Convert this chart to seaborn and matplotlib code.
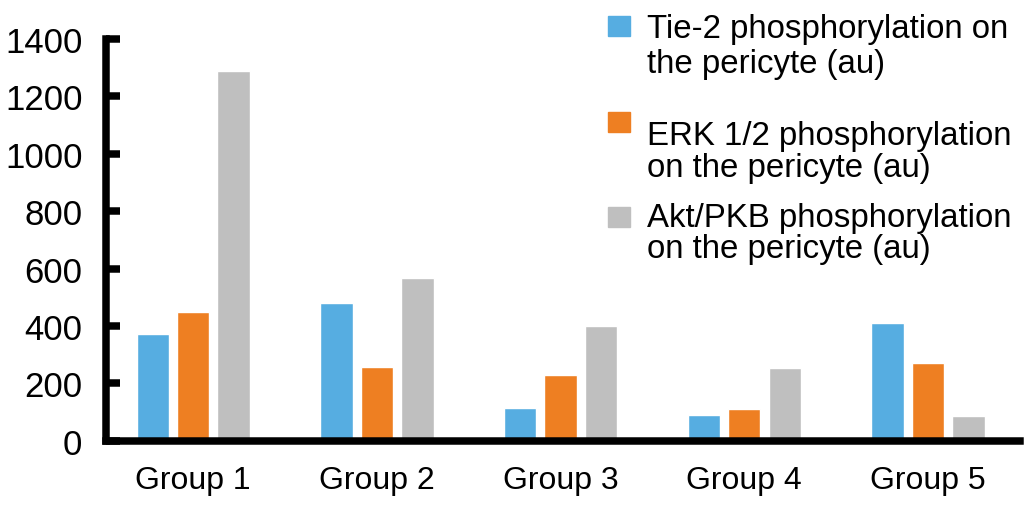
import pandas as pd
import matplotlib.pyplot as plt
import seaborn as sns

groups = ['Group 1', 'Group 2', 'Group 3', 'Group 4', 'Group 5']
tie2 = [371, 481, 114, 89, 410]
erk = [449, 256, 230, 109, 270]
akt = [1289, 568, 399, 253, 86]

series_names = ['Tie-2 phosphorylation on\nthe pericyte (au)',
                'ERK 1/2 phosphorylation\non the pericyte (au)',
                'Akt/PKB phosphorylation\non the pericyte (au)']
couleurs = ['#56ADE1', '#EE7F22', '#BFBFBF']
y_ticks = [0, 200, 400, 600, 800, 1000, 1200, 1400]

df = pd.DataFrame({'group': groups, 's0': tie2, 's1': erk, 's2': akt})
df = df.melt(id_vars='group', var_name='series', value_name='value')

sns.set_style('white')
plt.rcParams['font.family'] = ['Liberation Sans', 'DejaVu Sans']
plt.rcParams['text.color'] = 'black'
plt.rcParams['xtick.color'] = 'black'
plt.rcParams['ytick.color'] = 'black'

fig = plt.figure(figsize=(10.28, 5.06), dpi=100)
ax = fig.add_axes([0.1031, 0.127, 0.889, 0.794])

sns.barplot(data=df, x='group', y='value', hue='series',
            palette=couleurs, saturation=1, width=0.66, gap=0.2,
            legend=False, ax=ax)

ax.set_ylim(0, 1400)
ax.set_xlim(-0.475, 4.5)
ax.set_yticks(y_ticks)
ax.set_xlabel('')
ax.set_ylabel('')

for s in ['top', 'right']:
    ax.spines[s].set_visible(False)
for s in ['left', 'bottom']:
    ax.spines[s].set_color('black')
    ax.spines[s].set_linewidth(5.4)
    ax.spines[s].set_zorder(5)
    ax.spines[s].set_capstyle('projecting')

ax.tick_params(axis='y', direction='in', length=10, width=5.4, color='black',
               labelsize=25, pad=17, left=True, labelcolor='black')
ax.tick_params(axis='x', length=0, labelsize=23, pad=17.5, labelcolor='black')

# ── Légende placée à la main (espacement irrégulier dans l'original) ──
carres_y = [27, 123, 218]          # centres des carrés (px depuis le haut)
lignes_y = [(38, 73), (145, 177), (227, 258)]   # lignes de base du texte
W, H = 1028, 506
for nom, col, cy, (b1, b2) in zip(series_names, couleurs, carres_y, lignes_y):
    fig.patches.append(plt.Rectangle((608 / W, 1 - (cy + 10) / H), 22 / W, 20 / H,
                                     transform=fig.transFigure, color=col,
                                     figure=fig))
    l1, l2 = nom.split('\n')
    fig.text(647 / W, 1 - b1 / H, l1, fontsize=23.8, va='baseline', ha='left',
             color='black')
    fig.text(647 / W, 1 - b2 / H, l2, fontsize=23.8, va='baseline', ha='left',
             color='black')

plt.savefig('out.png', dpi=100)
